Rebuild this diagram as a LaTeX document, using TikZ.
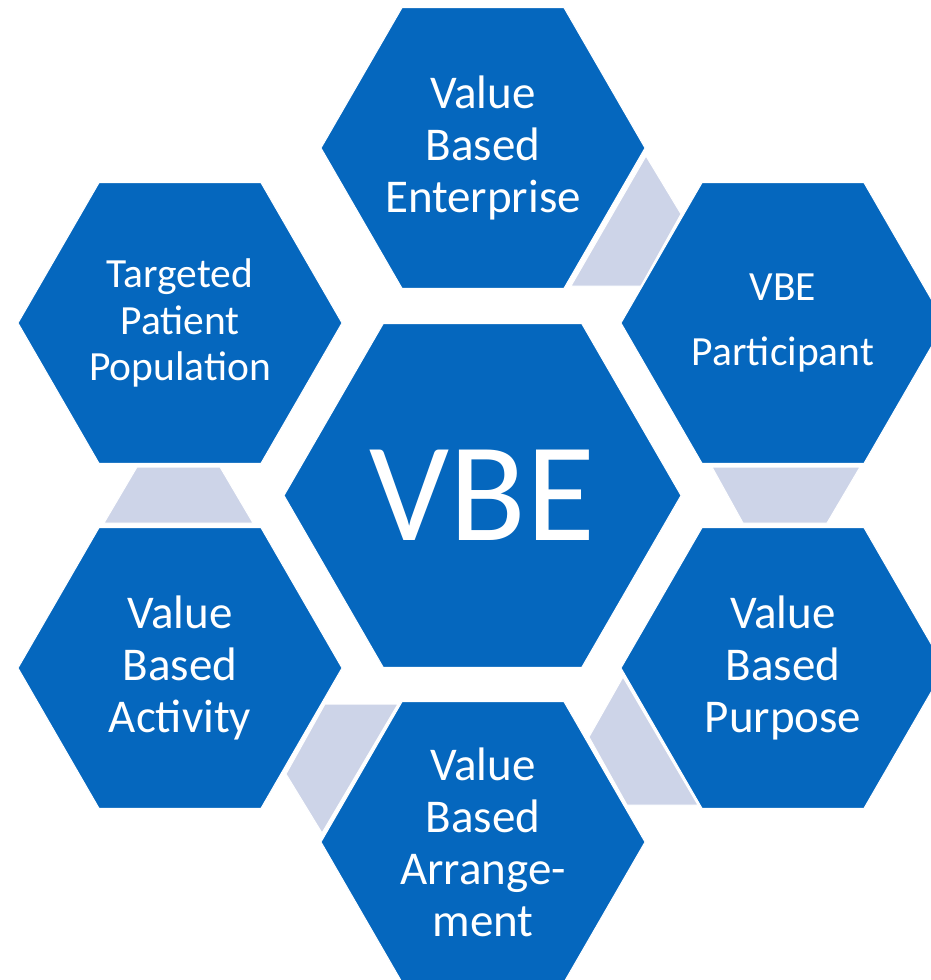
\documentclass[tikz,border=0pt]{standalone}
\usepackage{fontspec}
\setmainfont{Carlito}
\usetikzlibrary{shapes.geometric}
\definecolor{hexblue}{RGB}{5,103,190}
\definecolor{linkgrey}{RGB}{205,212,232}
\tikzset{
	hexa/.style={regular polygon, regular polygon sides=6, minimum size=324pt, inner sep=0pt,
		fill=hexblue, draw=white, line width=1pt, text=white, align=center,
		font=\fontsize{47}{52}\selectfont},
	link/.style={fill=linkgrey, draw=white, line width=1pt}
}

\begin{document}
\begin{tikzpicture}[x=1pt, y=-1pt]
	%%%%% START %%%%%
	
	\useasboundingbox (0, 0) rectangle (931, 980);
	
	% grey links between the outer hexagons
	\draw[link] (646, 156) -- (681, 214) -- (641, 286) -- (571, 286) -- cycle;
	\draw[link] (712, 467) -- (860, 467) -- (827, 523) -- (743, 523) -- cycle;
	\draw[link] (623, 677) -- (698, 805) -- (627, 805) -- (589, 737) -- cycle;
	\draw[link] (325, 704) -- (398, 704) -- (322, 833) -- (286, 774) -- cycle;
	\draw[link] (137, 467) -- (220, 467) -- (253, 523) -- (104, 523) -- cycle;
	
	% centre
	\node[hexa, minimum size=397pt, font=\fontsize{141}{141}\selectfont] (vbe) at (482.5, 495.5) {VBE};
	
	% outer ring
	\node[hexa] (enterprise) at (483, 148) {Value\\Based\\Enterprise};
	\node[hexa, font=\fontsize{41.5}{65}\selectfont] (participant) at (783, 323) {VBE\\Participant};
	\node[hexa] (purpose) at (783, 668) {Value\\Based\\Purpose};
	\node[hexa] (arrangement) at (483, 842) {Value\\Based\\Arrange-\\ment};
	\node[hexa] (activity) at (180, 668) {Value\\Based\\Activity};
	\node[hexa, font=\fontsize{41.5}{46.5}\selectfont] (population) at (180, 323) {Targeted\\Patient\\Population};
	
	%%%%% END %%%%%
\end{tikzpicture}
\end{document}
